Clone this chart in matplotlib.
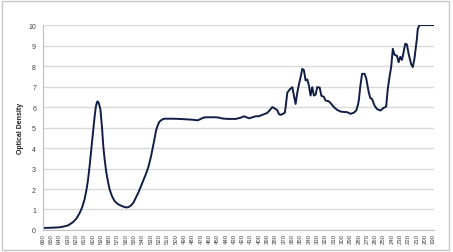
import matplotlib
matplotlib.use("Agg")
import matplotlib.pyplot as plt
from matplotlib.patches import Rectangle

wavelength = [660, 650, 640, 635, 630, 624, 620, 616, 613, 610,
              608, 606, 604, 602, 600, 598, 596.5, 595, 594, 593,
              591, 589, 587.5, 586, 584, 582, 580, 577, 574, 571,
              568, 564, 560, 557, 554, 551, 548, 545, 542, 539,
              536, 533, 530, 528, 526, 524, 522, 520, 518, 516,
              514, 510, 504, 496, 488, 480, 476, 474, 470, 468,
              464, 460, 452, 448, 444, 438, 432, 428, 422, 418,
              414, 412, 408, 404, 400, 396, 392, 390, 387, 384,
              382, 380, 378, 376, 374, 372, 370, 369, 368, 366,
              363, 360, 358, 356, 354, 352, 350, 348, 346, 344,
              342, 340, 338, 336, 334, 332, 330, 327, 325, 322,
              320, 316, 313, 310, 306, 302, 298, 294, 290, 286,
              283, 281, 280, 278, 276, 273, 271, 268, 266, 264,
              261, 258, 254, 250, 247, 245, 243, 241, 239, 237,
              234, 232, 230, 228, 226, 224, 222, 220, 217, 215,
              213, 210, 209, 207, 200, 190]

optical_density = [0.10, 0.11, 0.13, 0.17, 0.22, 0.38, 0.55, 0.82, 1.10, 1.50,
                   1.90, 2.40, 3.10, 3.90, 4.70, 5.50, 6.00, 6.25, 6.27, 6.20,
                   5.90, 5.00, 4.10, 3.50, 2.85, 2.40, 2.00, 1.65, 1.42, 1.30,
                   1.22, 1.15, 1.10, 1.12, 1.20, 1.35, 1.60, 1.85, 2.15, 2.45,
                   2.75, 3.10, 3.60, 4.00, 4.40, 4.85, 5.10, 5.28, 5.35, 5.40,
                   5.43, 5.43, 5.43, 5.42, 5.40, 5.38, 5.36, 5.35, 5.42, 5.47,
                   5.50, 5.50, 5.50, 5.48, 5.44, 5.42, 5.42, 5.42, 5.48, 5.55,
                   5.48, 5.45, 5.50, 5.55, 5.55, 5.62, 5.68, 5.72, 5.85, 6.00,
                   5.95, 5.90, 5.85, 5.65, 5.62, 5.65, 5.70, 5.72, 6.00, 6.70,
                   6.86, 6.97, 6.56, 6.15, 6.70, 7.10, 7.45, 7.86, 7.80, 7.30,
                   7.35, 7.05, 6.56, 6.97, 6.56, 6.60, 6.97, 6.95, 6.55, 6.50,
                   6.32, 6.28, 6.15, 6.00, 5.86, 5.78, 5.76, 5.75, 5.67, 5.72,
                   5.83, 6.10, 6.30, 7.05, 7.62, 7.62, 7.40, 6.72, 6.43, 6.40,
                   6.07, 5.90, 5.83, 5.96, 6.02, 6.90, 7.46, 7.95, 8.84, 8.55,
                   8.50, 8.19, 8.45, 8.30, 8.68, 9.09, 9.05, 8.60, 8.10, 7.95,
                   8.35, 9.33, 9.80, 10.00, 10.00, 10.00]

x_ticks = list(range(660, 189, -10))
y_ticks = list(range(0, 11))
y_label = "Optical Density"

plt.rcParams['font.family'] = ['Liberation Sans', 'DejaVu Sans']

fig = plt.figure(figsize=(4.53, 2.53), dpi=100)
fig.patches.append(Rectangle((0.004, 0.008), 0.988, 0.985, transform=fig.transFigure,
                             fill=False, edgecolor='#c8c8c8', linewidth=1.0))
ax = fig.add_axes([0.095, 0.087, 0.862, 0.81])

ax.plot(wavelength, optical_density, color='#111d45', linewidth=1.4, solid_joinstyle='round')

ax.set_xlim(660, 190)
ax.set_ylim(0, 10)
ax.set_xticks(x_ticks)
ax.set_xticklabels([str(t) for t in x_ticks], rotation=90, fontsize=4.3, color='#404040')
ax.set_yticks(y_ticks)
ax.set_yticklabels([str(t) for t in y_ticks], fontsize=5, color='#404040')
ax.tick_params(axis='x', length=0, pad=2)
ax.tick_params(axis='y', length=0, pad=5)
ax.grid(axis='y', color='#d9d9d9', linewidth=1.0)
ax.set_axisbelow(True)
for s in ['top', 'right']:
    ax.spines[s].set_visible(False)
ax.spines['left'].set_color('#bfbfbf')
ax.spines['bottom'].set_color('#bfbfbf')
ax.spines['left'].set_linewidth(0.8)
ax.spines['bottom'].set_linewidth(0.8)
ax.set_ylabel(y_label, fontsize=5, fontweight='bold', color='#202020', labelpad=3)

fig.savefig('out.png', dpi=100)
